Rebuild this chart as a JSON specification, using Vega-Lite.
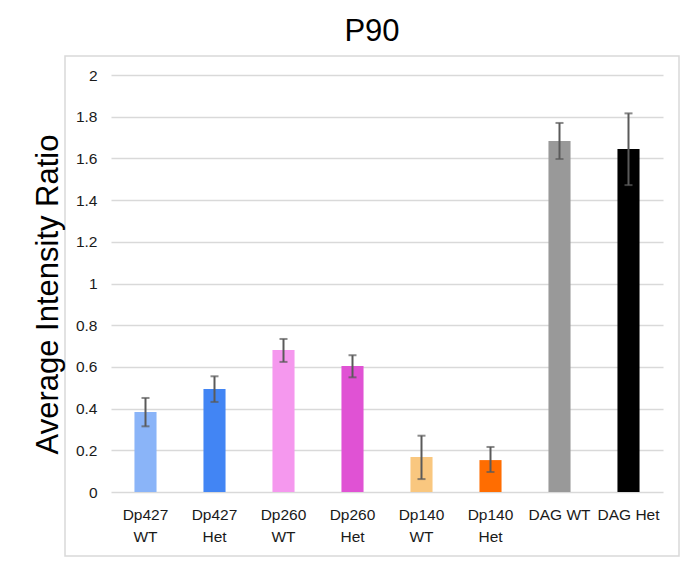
{
  "$schema": "https://vega.github.io/schema/vega-lite/v6.json",
  "width": 614,
  "height": 500,
  "autosize": {"type": "none"},
  "padding": {"left": 65, "top": 56, "right": 4, "bottom": 25},
  "background": "white",
  "title": {"text": "P90", "fontSize": 31, "font": "Liberation Sans", "fontWeight": "normal", "color": "#000000", "offset": 8, "anchor": "middle"},
  "config": {
    "view": {"stroke": "#d9d9d9", "strokeWidth": 1.5},
    "font": "Liberation Sans"
  },
  "data": {"values": [
    {"group": "Dp427 WT", "mean": 0.384, "lo": 0.315, "hi": 0.451},
    {"group": "Dp427 Het", "mean": 0.494, "lo": 0.432, "hi": 0.555},
    {"group": "Dp260 WT", "mean": 0.681, "lo": 0.624, "hi": 0.734},
    {"group": "Dp260 Het", "mean": 0.604, "lo": 0.55, "hi": 0.656},
    {"group": "Dp140 WT", "mean": 0.168, "lo": 0.062, "hi": 0.27},
    {"group": "Dp140 Het", "mean": 0.153, "lo": 0.096, "hi": 0.216},
    {"group": "DAG WT", "mean": 1.683, "lo": 1.597, "hi": 1.77},
    {"group": "DAG Het", "mean": 1.645, "lo": 1.472, "hi": 1.816}
  ]},
  "encoding": {
    "x": {
      "field": "group", "type": "nominal", "sort": null,
      "scale": {"range": [46, 598], "paddingInner": 0.68, "paddingOuter": 0.34},
      "axis": {
        "title": null, "orient": "bottom", "offset": -64, "domain": false, "ticks": false, "grid": false,
        "labelAngle": 0, "labelPadding": 15, "labelFontSize": 15.5, "labelColor": "#1a1a1a",
        "labelLineHeight": 22, "labelBaseline": "top",
        "labelExpr": "indexof(datum.value, 'DAG') == 0 ? datum.value : split(datum.value, ' ')"
      }
    }
  },
  "layer": [
    {
      "mark": {"type": "bar"},
      "encoding": {
        "y": {
          "field": "mean", "type": "quantitative",
          "scale": {"domain": [0, 2], "range": [436, 19], "nice": false, "zero": true},
          "axis": {
            "title": "Average Intensity Ratio", "values": [0, 0.2, 0.4, 0.6, 0.8, 1, 1.2, 1.4, 1.6, 1.8, 2],
            "format": "~g", "offset": -46, "domain": false, "ticks": false,
            "grid": true, "gridColor": "#d9d9d9", "gridWidth": 1.6,
            "labelPadding": 14, "labelFontSize": 15.5, "labelColor": "#1a1a1a",
            "titleFontSize": 31, "titleFontWeight": "normal", "titleColor": "#000000",
            "titleX": -54, "titleY": 238, "titleBaseline": "alphabetic", "titleAlign": "center", "titleAngle": -90
          }
        },
        "color": {
          "field": "group", "type": "nominal", "legend": null,
          "scale": {
            "domain": ["Dp427 WT", "Dp427 Het", "Dp260 WT", "Dp260 Het", "Dp140 WT", "Dp140 Het", "DAG WT", "DAG Het"],
            "range": ["#8ab4f8", "#4285f4", "#f598ee", "#e052d4", "#f9c77f", "#ff6d01", "#999999", "#000000"]
          }
        }
      }
    },
    {
      "mark": {"type": "rule", "color": "#5a5a5a", "strokeWidth": 2},
      "encoding": {
        "y": {"field": "lo", "type": "quantitative"},
        "y2": {"field": "hi"}
      }
    },
    {
      "mark": {"type": "tick", "color": "#5a5a5a", "size": 8, "thickness": 2},
      "encoding": {"y": {"field": "lo", "type": "quantitative"}}
    },
    {
      "mark": {"type": "tick", "color": "#5a5a5a", "size": 8, "thickness": 2},
      "encoding": {"y": {"field": "hi", "type": "quantitative"}}
    }
  ]
}
